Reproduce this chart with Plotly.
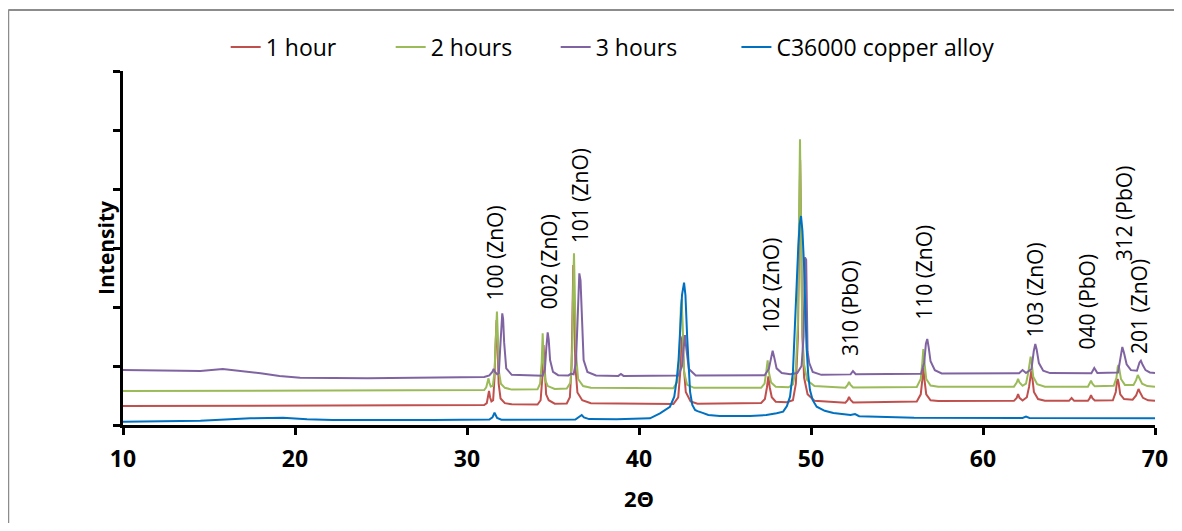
import plotly.graph_objects as go

# ---------------- data ----------------
series_names = ["1 hour", "2 hours", "3 hours", "C36000 copper alloy"]

x_1h = [10, 20, 30, 31.0, 31.15, 31.22, 31.28, 31.34, 31.42, 31.52, 31.6, 31.66, 31.72, 31.78, 31.84, 31.95, 32.2, 32.6,
        34.1, 34.28, 34.38, 34.45, 34.52, 34.6, 34.75, 35.1, 35.8, 35.98, 36.08, 36.13, 36.18, 36.23, 36.3, 36.42, 36.7, 37.2,
        42.0, 42.28, 42.4, 42.46, 42.52, 42.6, 42.72, 43.0, 43.4,
        47.1, 47.32, 47.44, 47.52, 47.6, 47.72, 47.95, 48.6,
        48.95, 49.12, 49.24, 49.31, 49.37, 49.43, 49.5, 49.6, 49.8, 50.2,
        52.0, 52.13, 52.21, 52.3, 52.45,
        56.15, 56.38, 56.47, 56.53, 56.6, 56.7, 56.95, 57.4,
        61.8, 61.96, 62.04, 62.12, 62.3, 62.55, 62.68, 62.76, 62.81, 62.87, 62.96, 63.2, 63.6,
        65.0, 65.15, 65.3, 66.1, 66.2, 66.28, 66.36, 66.5,
        67.55, 67.72, 67.79, 67.83, 67.88, 67.98, 68.2, 68.7, 68.9, 68.98, 69.04, 69.12, 69.3, 69.6, 70]
y_1h = [322, 330, 338, 339, 370, 470, 576, 470, 400, 420, 800, 1350, 1780, 1300, 700, 450, 370, 350,
        348, 420, 800, 1356, 820, 520, 420, 362, 365, 470, 1000, 2000, 2712, 2000, 1000, 550, 420, 370,
        356, 470, 900, 1400, 1500, 1000, 560, 400, 362,
        372, 440, 640, 825, 640, 470, 395, 385,
        420, 700, 1500, 3300, 4490, 3200, 1500, 800, 520, 410,
        378, 420, 475, 425, 382,
        400, 520, 760, 966, 760, 520, 420, 405,
        410, 460, 525, 460, 415, 470, 650, 860, 920, 800, 560, 440, 412,
        410, 458, 410, 410, 450, 508, 455, 414,
        420, 560, 740, 780, 720, 520, 440, 430, 500, 590, 610, 560, 460, 418, 412]

x_2h = [10, 20, 30, 31.0, 31.12, 31.2, 31.25, 31.3, 31.38, 31.5, 31.6, 31.68, 31.74, 31.8, 31.86, 31.97, 32.2, 32.6,
        34.1, 34.25, 34.34, 34.40, 34.46, 34.55, 34.7, 35.1, 35.8, 36.02, 36.12, 36.17, 36.22, 36.27, 36.34, 36.46, 36.75, 37.2,
        42.0, 42.24, 42.37, 42.43, 42.48, 42.54, 42.62, 42.8, 43.2,
        47.1, 47.3, 47.4, 47.48, 47.56, 47.68, 47.95, 48.7,
        48.95, 49.12, 49.23, 49.3, 49.36, 49.42, 49.49, 49.58, 49.78, 50.2,
        52.0, 52.13, 52.21, 52.3, 52.45,
        56.15, 56.38, 56.47, 56.53, 56.6, 56.7, 56.95, 57.4,
        61.8, 61.96, 62.04, 62.12, 62.3, 62.5, 62.64, 62.72, 62.77, 62.83, 62.92, 63.15, 63.6,
        66.1, 66.2, 66.28, 66.36, 66.5,
        67.6, 67.76, 67.83, 67.87, 67.92, 68.02, 68.25, 68.75, 68.9, 68.96, 69.0, 69.08, 69.25, 69.55, 70]
y_2h = [576, 582, 590, 593, 640, 720, 791, 720, 650, 660, 900, 1500, 1921, 1450, 900, 700, 630, 600,
        605, 700, 1050, 1554, 1050, 760, 660, 612, 618, 720, 1300, 2300, 2910, 2200, 1200, 780, 660, 630,
        622, 740, 1300, 2000, 2130, 1700, 900, 680, 630,
        630, 700, 900, 1095, 880, 720, 650, 640,
        690, 950, 1700, 3300, 4842, 3400, 1700, 1050, 760, 660,
        633, 680, 729, 680, 636,
        645, 780, 1050, 1288, 1050, 780, 670, 650,
        650, 720, 780, 720, 665, 700, 900, 1100, 1158, 1050, 820, 690, 650,
        648, 700, 751, 700, 655,
        665, 800, 980, 1017, 960, 780, 680, 680, 760, 830, 847, 800, 700, 660, 650]

x_3h = [10, 14.5, 15.8, 16.8, 18, 19.1, 20.3, 24.2, 30, 31.0, 31.3, 31.47, 31.55, 31.63, 31.75, 31.85, 31.93, 31.99, 32.05,
        32.1, 32.16, 32.28, 32.6, 34.4, 34.53, 34.61, 34.69, 34.75, 34.83, 35.0, 35.3, 35.9, 36.05, 36.2,
        36.33, 36.42, 36.48, 36.53, 36.6, 36.67, 36.78, 37.0, 37.5, 38.8, 38.95, 39.1, 42.3, 42.5, 42.6, 42.67,
        42.75, 42.9, 43.3, 47.3, 47.55, 47.67, 47.77, 47.86, 48.0, 48.3, 48.8, 49.2, 49.45, 49.57, 49.62, 49.65,
        49.72, 49.75, 49.8, 49.9, 50.1, 50.6, 52.3, 52.44, 52.6, 56.4, 56.58, 56.68, 56.76, 56.84, 56.95, 57.2,
        57.6, 62.1, 62.3, 62.5, 62.82, 62.95, 63.04, 63.12, 63.25, 63.5, 63.9, 66.3, 66.47, 66.65, 67.85,
        68.0, 68.1, 68.2, 68.35, 68.6, 68.95, 69.1, 69.18, 69.28, 69.45, 69.7, 70]
y_3h = [932, 915, 949, 920, 876, 830, 802, 791, 802, 815, 840, 900, 949, 900, 860, 880, 1300, 1750, 1893,
        1800, 1400, 960, 850, 835, 950, 1300, 1571, 1450, 1100, 900, 845, 840, 870, 860,
        1050, 1700, 2400, 2571, 2450, 1800, 1100, 900, 840, 832, 864, 832, 840, 1000, 1350, 1525,
        1300, 950, 840, 842, 950, 1150, 1260, 1150, 960, 880, 860, 880, 1000, 1500, 2500, 2842,
        2800, 1600, 1250, 1050, 900, 850, 858, 915, 860, 870, 1050, 1380, 1458, 1320, 1080, 930,
        875, 878, 932, 880, 950, 1250, 1373, 1280, 1050, 920, 880, 878, 966, 882, 890,
        1150, 1322, 1220, 1030, 930, 920, 1060, 1090, 1020, 930, 890, 880]

x_cu = [10, 14.5, 17.4, 19.3, 20.7, 22.2, 28, 31.3, 31.48, 31.6, 31.75, 32.0, 36.3, 36.55, 36.67,
        36.8, 37.1, 38.7, 40.64, 41.22, 41.8, 42.05, 42.19, 42.3, 42.38, 42.5, 42.62, 42.7, 42.8, 42.9, 42.97, 43.1, 43.26,
        43.4, 43.55, 43.7, 44.03, 44.7, 46.45, 47.4, 48.0, 48.38, 48.6, 48.78, 48.95, 49.07, 49.17, 49.26, 49.34, 49.42,
        49.5, 49.59, 49.66, 49.74, 49.84, 49.94, 50.1, 50.33, 50.8, 51.3, 52.3, 52.56, 52.8, 56, 62.3, 62.5, 62.7, 70]
y_cu = [56, 73, 113, 124, 96, 85, 85, 92, 130, 208, 120, 90, 92, 150, 170,
        130, 100, 96, 113, 198, 310, 480, 763, 1100, 1497, 2200, 2412, 2200, 1497, 900, 560, 340, 254,
        235, 226, 205, 169, 152, 152, 169, 200, 226, 320, 480, 900, 1610, 2400, 3022, 3400, 3542,
        3300, 2746, 2000, 1327, 850, 593, 420, 310, 240, 203, 169, 186, 150, 125, 120, 141, 120, 115]

peak_labels = ["100 (ZnO)", "002 (ZnO)", "101 (ZnO)", "102 (ZnO)", "310 (PbO)",
               "110 (ZnO)", "103 (ZnO)", "040 (PbO)", "312 (PbO)", "201 (ZnO)"]
label_x = [31.63, 34.73, 36.57, 47.71, 52.27, 56.57, 63.02, 66.06, 68.22, 69.08]
label_y = [2119, 1977, 3090, 1582, 1186, 1791, 1508, 1300, 2797, 1215]

x_ticks = [10, 20, 30, 40, 50, 60, 70]

# ---------------- figure ----------------
colors = ["#C0504D", "#9BBB59", "#8064A2", "#0070C0"]
legends = ["legend", "legend", "legend", "legend2"]
xs = [x_1h, x_2h, x_3h, x_cu]
ys = [y_1h, y_2h, y_3h, y_cu]

fig = go.Figure()
for name, xv, yv, c, lg in zip(series_names, xs, ys, colors, legends):
    fig.add_trace(go.Scatter(x=xv, y=yv, mode="lines", name=name, legend=lg,
                             line=dict(color=c, width=2)))

for t, lx, ly in zip(peak_labels, label_x, label_y):
    fig.add_annotation(x=lx, y=ly, text=t, textangle=-90, showarrow=False,
                       xanchor="center", yanchor="bottom", yshift=-3,
                       font=dict(family="Open Sans", size=21, color="#000000"))

# y-axis title placed as rotated text next to the axis
fig.add_annotation(xref="paper", yref="paper", x=-0.0165, y=0.5, text="<b>Intensity</b>",
                   textangle=-90, showarrow=False, xanchor="center", yanchor="middle",
                   font=dict(family="Open Sans", size=21, color="#000000"))

# outer grey frame (only its top and left edges fall inside the picture)
fig.add_shape(type="line", xref="paper", yref="paper",
              x0=-0.1112, x1=1.3, y0=1.1725, y1=1.1725,
              line=dict(color="#8c8c8c", width=2), layer="below")
fig.add_shape(type="line", xref="paper", yref="paper",
              x0=-0.1112, x1=-0.1112, y0=-0.6, y1=1.1725,
              line=dict(color="#8c8c8c", width=2), layer="below")

legend_font = dict(family="Open Sans", size=23, color="#000000")
fig.update_layout(
    template="none",
    width=1166, height=515,
    margin=dict(l=115, r=19, t=63, b=98, autoexpand=False),
    paper_bgcolor="white", plot_bgcolor="white",
    font=dict(family="Open Sans", color="#000000"),
    showlegend=True,
    legend=dict(orientation="h", x=0.0995, y=1.068, xanchor="left", yanchor="middle",
                font=legend_font, entrywidth=120, bgcolor="rgba(0,0,0,0)"),
    legend2=dict(orientation="h", x=0.5944, y=1.068, xanchor="left", yanchor="middle",
                 font=legend_font, bgcolor="rgba(0,0,0,0)"),
    xaxis=dict(range=[10, 70], tickvals=x_ticks, showgrid=False, zeroline=False,
               automargin=False,
               showline=True, linecolor="black", linewidth=3,
               ticks="outside", ticklen=7, tickwidth=3, tickcolor="black",
               ticklabelstandoff=4,
               tickfont=dict(family="Open Sans", size=23, weight="bold", color="#000000"),
               title=dict(text="2Θ", font=dict(family="Open Sans", size=22, weight="bold"),
                          standoff=20)),
    yaxis=dict(range=[0, 6000], dtick=1000, showgrid=False, zeroline=False,
               automargin=False,
               showline=True, linecolor="black", linewidth=3, showticklabels=False,
               ticks="outside", ticklen=7, tickwidth=3, tickcolor="black"),
)

fig.write_html("out.html", config={"displayModeBar": False})
